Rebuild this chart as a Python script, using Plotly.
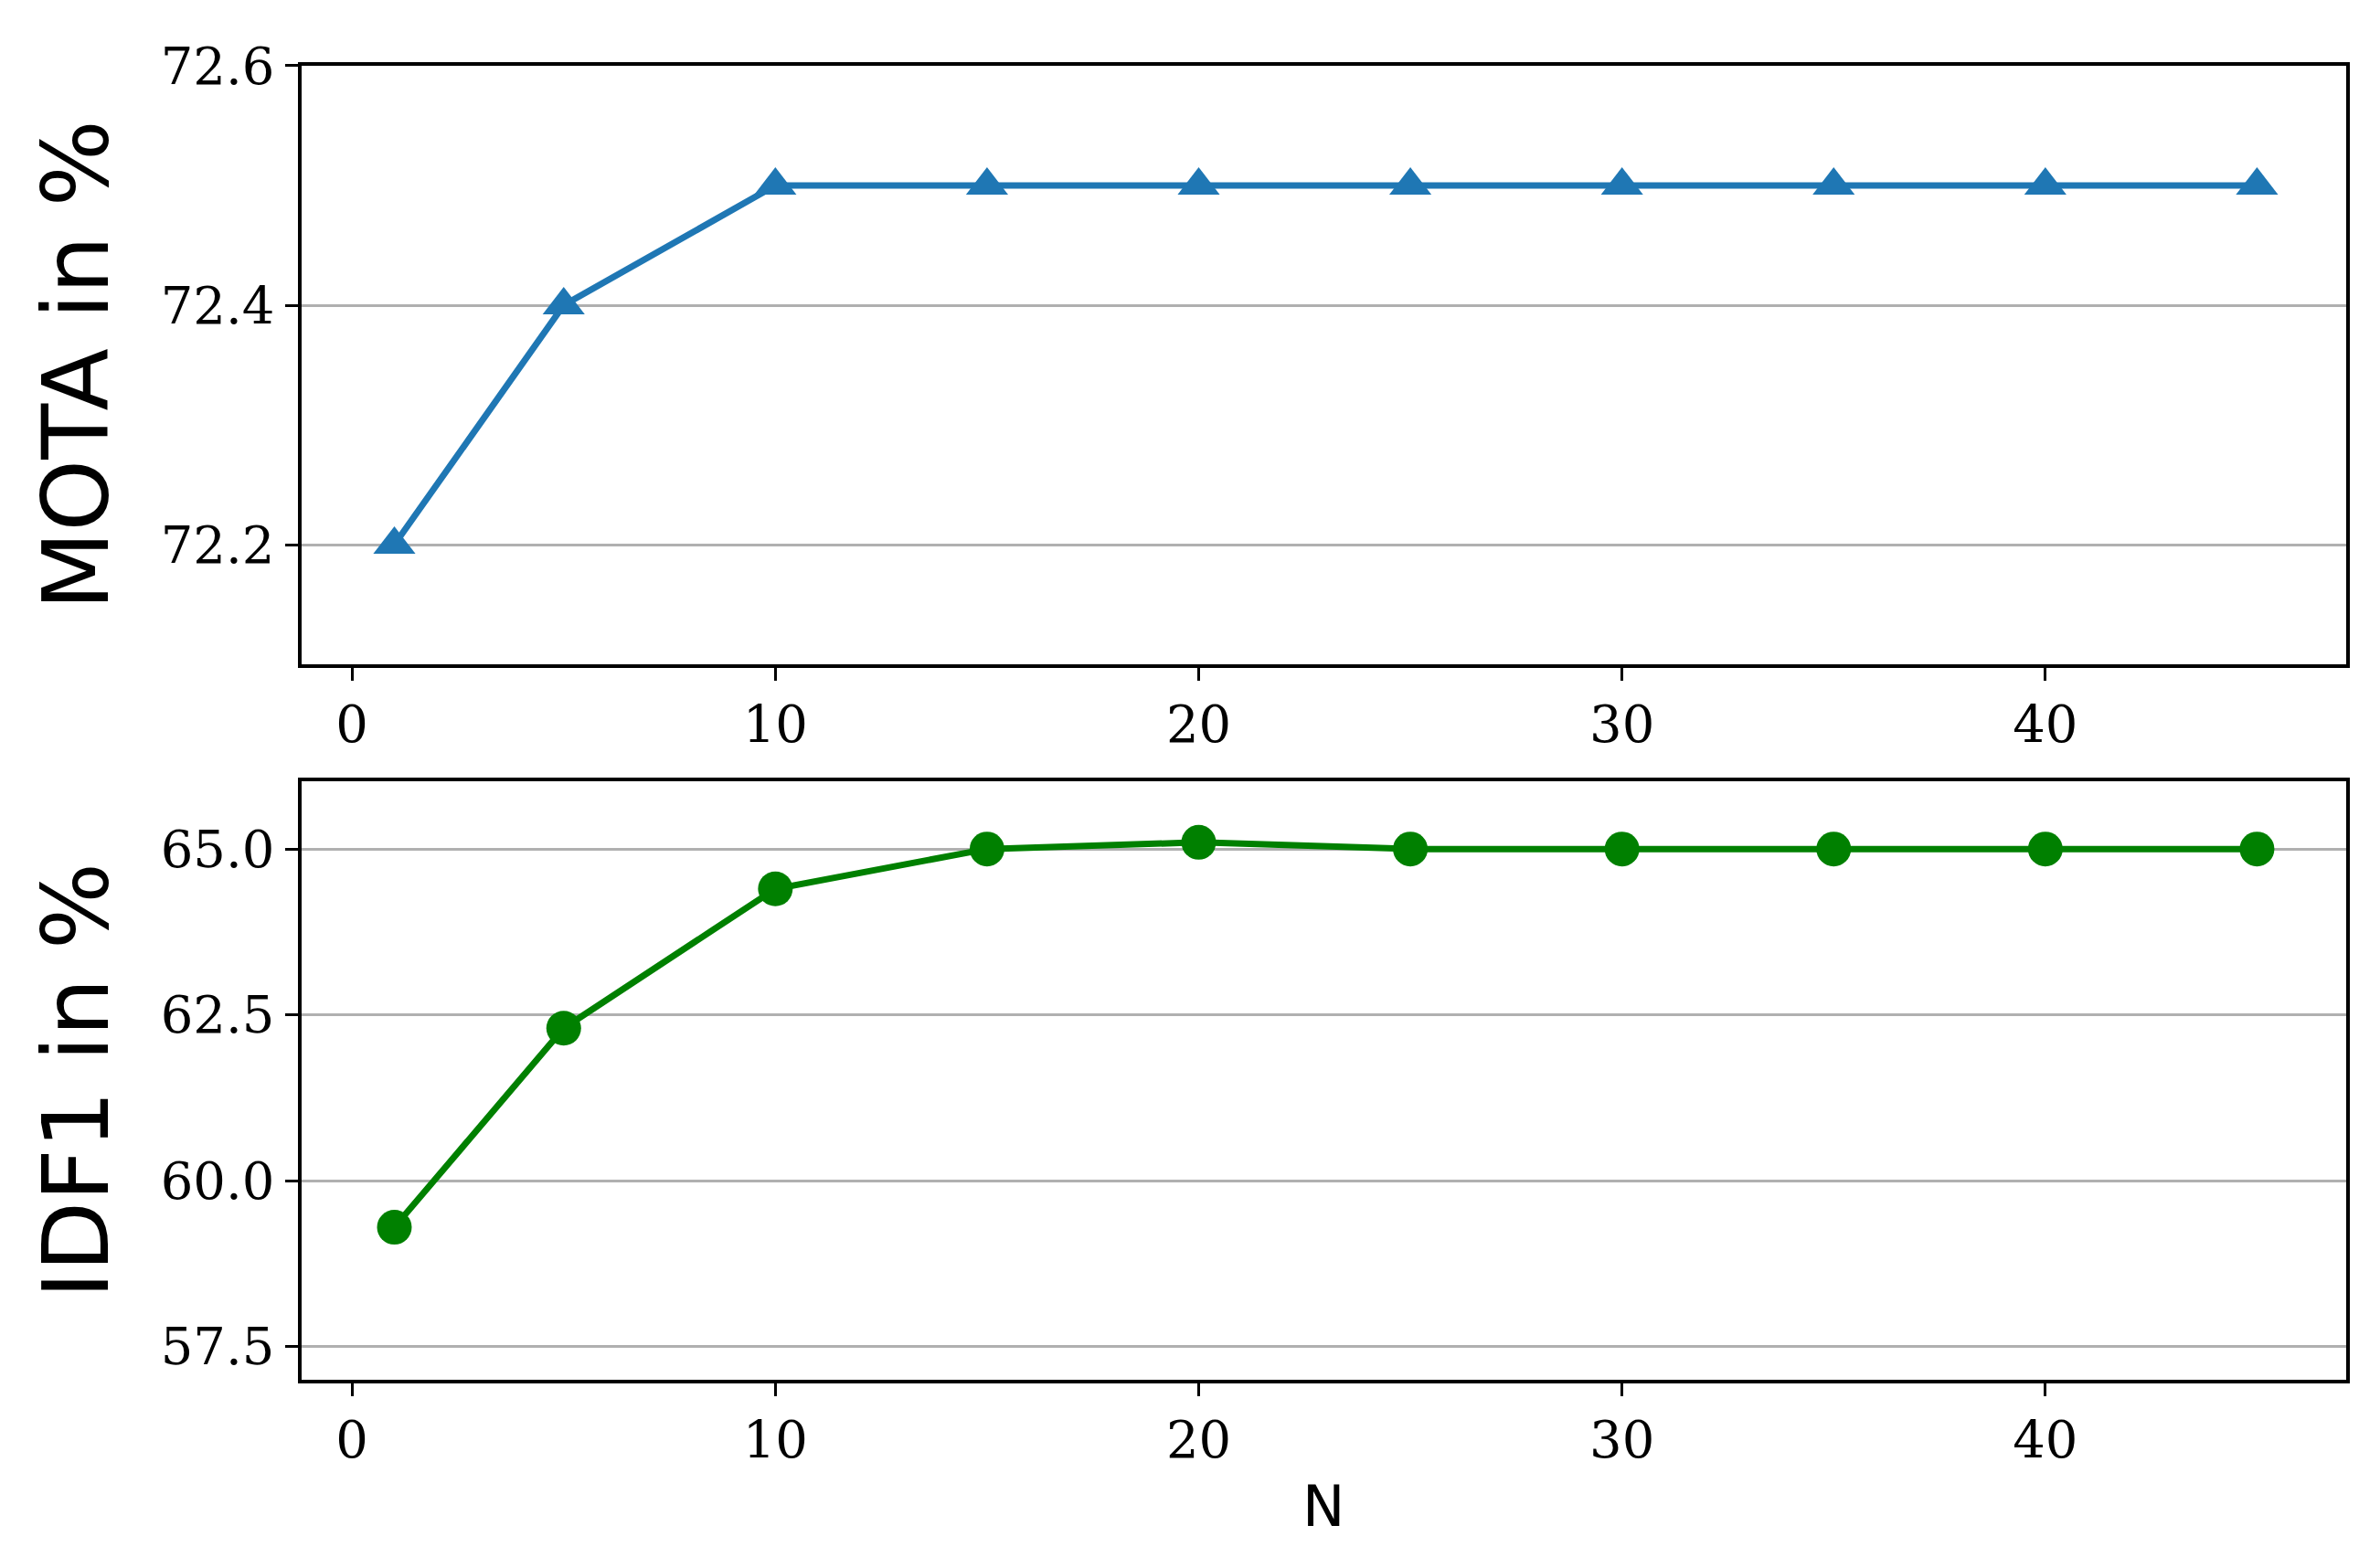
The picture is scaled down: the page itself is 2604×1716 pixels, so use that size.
import plotly.graph_objects as go

N = [1, 5, 10, 15, 20, 25, 30, 35, 40, 45]
mota = [72.2, 72.4, 72.5, 72.5, 72.5, 72.5, 72.5, 72.5, 72.5, 72.5]
idf1 = [59.3, 62.3, 64.4, 65.0, 65.1, 65.0, 65.0, 65.0, 65.0, 65.0]

fig = go.Figure()
fig.add_trace(go.Scatter(x=N, y=mota, mode="lines+markers", xaxis="x", yaxis="y",
                         line=dict(color="#1f77b4", width=7),
                         marker=dict(symbol="triangle-up", size=40, color="#1f77b4")))
fig.add_trace(go.Scatter(x=N, y=idf1, mode="lines+markers", xaxis="x2", yaxis="y2",
                         line=dict(color="green", width=7),
                         marker=dict(symbol="circle", size=38, color="green")))

tickfont = dict(family="DejaVu Serif", size=56, color="black")
axcommon = dict(showline=True, linecolor="black", linewidth=4, mirror=True,
                ticks="outside", ticklen=14, tickwidth=3, tickcolor="black",
                tickfont=tickfont, zeroline=False)
fig.update_layout(
    width=2604, height=1716, margin=dict(l=0, r=0, t=0, b=0),
    plot_bgcolor="white", paper_bgcolor="white", showlegend=False,
    xaxis=dict(domain=[0.1235, 0.9826], anchor="y", range=[-1.2, 47.1],
               tickvals=[0, 10, 20, 30, 40], showgrid=False, **axcommon),
    yaxis=dict(domain=[0.592, 0.981], anchor="x", range=[72.1, 72.6],
               tickvals=[72.2, 72.4, 72.6], tickformat=".1f",
               showgrid=True, gridcolor="#b0b0b0", gridwidth=3,
               title=dict(text="MOTA in %", font=dict(family="DejaVu Sans", size=100, color="black"), standoff=25),
               **axcommon),
    xaxis2=dict(domain=[0.1235, 0.9826], anchor="y2", range=[-1.2, 47.1],
                tickvals=[0, 10, 20, 30, 40], showgrid=False,
                title=dict(text="N", font=dict(family="DejaVu Sans", size=62, color="black"), standoff=20),
                **axcommon),
    yaxis2=dict(domain=[0.127, 0.516], anchor="x2", range=[57.0, 66.02],
                tickvals=[57.5, 60.0, 62.5, 65.0], tickformat=".1f",
                showgrid=True, gridcolor="#b0b0b0", gridwidth=3,
                title=dict(text="IDF1 in %", font=dict(family="DejaVu Sans", size=100, color="black"), standoff=25),
                **axcommon),
)
fig.write_html("out.html")
